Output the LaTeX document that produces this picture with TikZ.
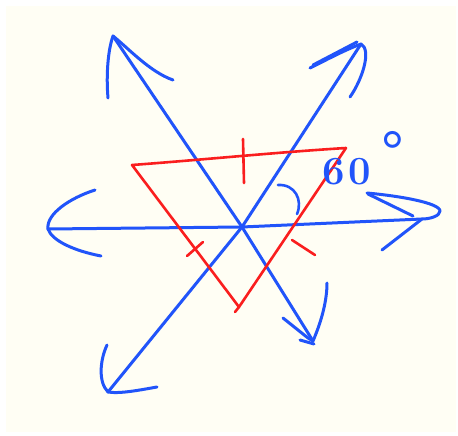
\documentclass[tikz,border=0pt]{standalone}
\usepackage{tikz}
\definecolor{paper}{HTML}{FFFEF4}
\definecolor{penblue}{HTML}{2154FA}
\definecolor{penred}{HTML}{FA1E1E}
\tikzset{
  blueink/.style={draw=penblue, line width=3pt, line cap=round, line join=round},
  redink/.style={draw=penred, line width=2.6pt, line cap=round, line join=round},
  handtext/.style={text=penblue, inner sep=0pt, font=\bfseries\fontsize{40}{40}\selectfont}
}
\begin{document}
\begin{tikzpicture}[x=1pt,y=-1pt]
\useasboundingbox (0,0) rectangle (458,436);
\fill[white] (0,0) rectangle (458,436);
\fill[paper] (6,6) rectangle (456,432);
% coordinates
\coordinate (O) at (242,227);
\coordinate (W) at (48,229);
\coordinate (E) at (422,219);
\coordinate (NW) at (113,36);
\coordinate (SE) at (313,341);
\coordinate (SW) at (108,392);
\coordinate (NE) at (361,44);
% blue lines
\draw[blueink] (W) -- (O) -- (E);
\draw[blueink] (NW) -- (O) -- (SE);
\draw[blueink] (SW) -- (O) -- (NE);
% left arrowhead
\draw[blueink] (95,190) .. controls (70,198) and (46,214) .. (W) .. controls (52,241) and (75,251) .. (101,256);
% right arrowhead
\draw[blueink] (367,193) .. controls (400,196) and (440,203) .. (440,211) .. controls (440,216) and (430,219) .. (E) -- (382,250);
\draw[blueink] (368,194) -- (413,216);
% NW arrowhead
\draw[blueink] (108,98) .. controls (106,75) and (108,50) .. (NW) .. controls (128,48) and (150,72) .. (173,80);
% SE arrowhead
\draw[blueink] (283,318) -- (308,338) -- (SE) .. controls (322,320) and (327,300) .. (327,283);
\draw[blueink] (300,340) -- (314,344);
% SW arrowhead
\draw[blueink] (107,345) .. controls (100,360) and (98,382) .. (SW) .. controls (120,394) and (140,390) .. (157,387);
% NE arrowhead
\draw[blueink] (310,68) .. controls (330,58) and (345,50) .. (NE) .. controls (372,50) and (362,80) .. (350,97);
\draw[blueink] (313,65) -- (357,42);
% red triangle
\coordinate (A) at (132,165);
\coordinate (B) at (346,148);
\coordinate (C) at (239,307);
\draw[redink] (A) .. controls (200,160) and (280,152) .. (B) -- (C) -- cycle;
\draw[redink] (C) -- (235,312);
% tick marks
\draw[redink] (243,139) -- (244,183);
\draw[redink] (187,256) -- (203,242);
\draw[redink] (292,240) -- (315,255);
% angle arc
\draw[blueink, line width=2.6pt] (278,185) .. controls (295,184) and (303,200) .. (297,214);
% label
\node[handtext, anchor=base west] (lbl) at (322,184) {6\hspace{4pt}0};
\node[handtext, anchor=center, font=\bfseries\fontsize{54}{54}\selectfont] (deg) at (393,150) {\textdegree};
\end{tikzpicture}
\end{document}
